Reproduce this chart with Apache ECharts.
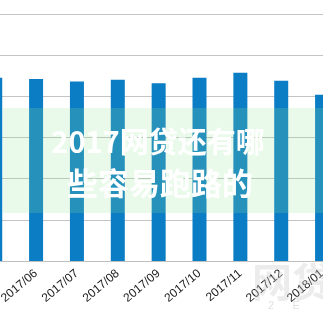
<!DOCTYPE html>
<html>
<head>
<meta charset="utf-8">
<script src="https://cdn.jsdelivr.net/npm/echarts@6/dist/echarts.min.js"></script>
<style>
html,body{margin:0;padding:0;background:#fff;}
#c{width:323px;height:323px;}
</style>
</head>
<body>
<div id="c"></div>
<script>
var categories = ['2017/05','2017/06','2017/07','2017/08','2017/09','2017/10','2017/11','2017/12','2018/01'];
var values = [44.5, 44.2, 43.6, 44.0, 43.2, 44.5, 45.7, 43.8, 40.4];
var titleLines = ['2017网贷还有哪', '些容易跑路的'];

var chart = echarts.init(document.getElementById('c'), null, {renderer:'canvas'});
chart.setOption({
  animation: false,
  backgroundColor: '#fff',
  grid: { left: -25.2, right: -19.5, top: 14, bottom: 62, outerBoundsMode: 'none', containLabel: false },
  xAxis: {
    type: 'category',
    data: categories,
    axisLine: { lineStyle: { color: '#bfbfbf', width: 1 } },
    axisTick: { show: false },
    axisLabel: { rotate: 40, margin: 11, fontSize: 12, color: '#1a1a1a', fontFamily: 'Liberation Sans', interval: 0 }
  },
  yAxis: {
    type: 'value',
    min: 0, max: 60, interval: 10,
    axisLabel: { show: false },
    axisLine: { show: false },
    axisTick: { show: false },
    splitLine: { lineStyle: { color: '#c4c4c4', width: 1 } }
  },
  series: [{
    type: 'bar',
    data: values,
    barWidth: 14,
    itemStyle: { color: '#0a7dc5' }
  }],
  graphic: [
    { type: 'rect', shape: { x: 3, y: 108, width: 320, height: 105 }, style: { fill: 'rgba(150,230,150,0.2)' }, z: 100 },
    { type: 'text', x: 158, y: 142, z: 101, style: { text: titleLines[0], fill: '#fff', font: 'bold 29px "Noto Sans CJK SC"', align: 'center', verticalAlign: 'middle', shadowColor: 'rgba(0,0,0,0.08)', shadowBlur: 2 } },
    { type: 'text', x: 160, y: 183, z: 101, style: { text: titleLines[1], fill: '#fff', font: 'bold 31px "Noto Sans CJK SC"', align: 'center', verticalAlign: 'middle', shadowColor: 'rgba(0,0,0,0.08)', shadowBlur: 2 } },
    { type: 'text', x: 252, y: 262, z: 99, style: { text: '网贷', fill: 'rgba(200,200,200,0.35)', font: 'bold 40px "Noto Sans CJK SC"' } },
    { type: 'text', x: 268, y: 300, z: 99, style: { text: '2      E', fill: 'rgba(200,200,200,0.55)', font: '11px "Liberation Sans"' } }
  ]
});
</script>
</body>
</html>
